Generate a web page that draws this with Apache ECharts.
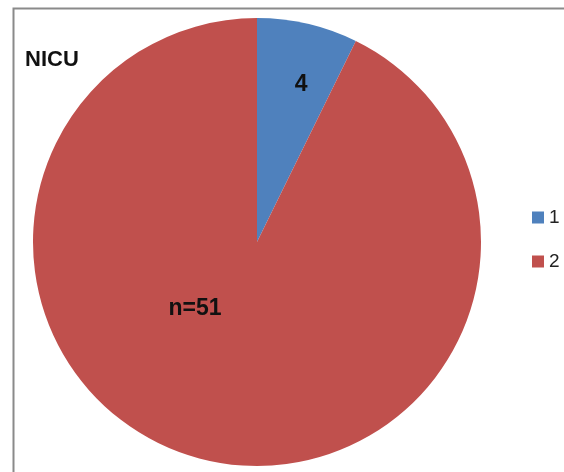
<!DOCTYPE html>
<html>
<head>
<meta charset="utf-8">
<script src="https://cdn.jsdelivr.net/npm/echarts@6/dist/echarts.min.js"></script>
<style>
  html, body { margin: 0; padding: 0; background: #fff; }
  #chart { width: 564px; height: 472px; }
</style>
</head>
<body>
<div id="chart"></div>
<script>
// Data
const chartTitle = 'NICU';
const categories = ['1', '2'];
const counts = [4, 51];
const sliceLabels = ['4', 'n=51'];
const sliceColors = ['#4F81BD', '#C0504D'];

// nudge labels to where Excel put them
const labelShift = [[18, -45], [-36, -45]];

const chart = echarts.init(document.getElementById('chart'));

chart.setOption({
    animation: false,
    textStyle: { fontFamily: '"Liberation Sans", Arial, sans-serif' },
    title: {
        text: chartTitle,
        left: 20,
        top: 44,
        textStyle: { fontSize: 22, fontWeight: 'bold', color: '#111' }
    },
    legend: {
        orient: 'vertical',
        left: 527,
        top: 203,
        itemWidth: 12,
        itemHeight: 12,
        itemGap: 25,
        icon: 'rect',
        data: categories,
        textStyle: { fontSize: 19, color: '#222' }
    },
    graphic: [{
        type: 'polyline',
        silent: true,
        shape: { points: [[13.5, 472], [13.5, 8.5], [564, 8.5]] },
        style: { stroke: '#8a8a8a', lineWidth: 2, fill: null }
    }],
    series: [{
        type: 'pie',
        center: [257, 242],
        radius: 224,
        startAngle: 90,
        clockwise: true,
        avoidLabelOverlap: false,
        itemStyle: { borderWidth: 0 },
        label: {
            show: true,
            position: 'inside',
            fontSize: 23,
            fontWeight: 'bold',
            color: '#111',
            formatter: p => sliceLabels[p.dataIndex]
        },
        labelLayout: p => ({ dx: labelShift[p.dataIndex][0], dy: labelShift[p.dataIndex][1] }),
        emphasis: { disabled: true },
        data: categories.map((c, i) => ({
            name: c,
            value: counts[i],
            itemStyle: { color: sliceColors[i] }
        }))
    }]
});
</script>
</body>
</html>
